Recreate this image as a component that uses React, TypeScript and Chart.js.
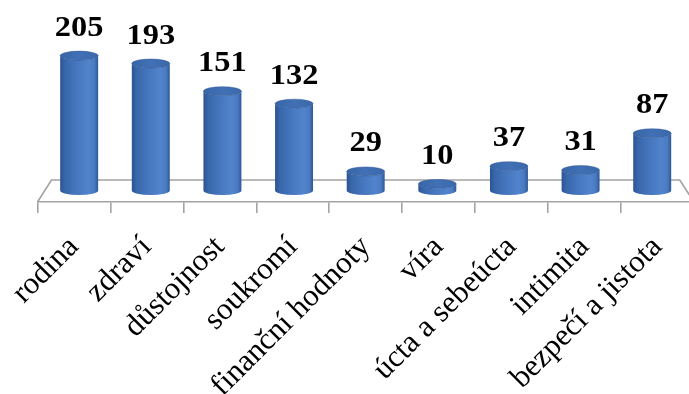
import { useEffect, useRef } from "react";
import { Chart, registerables } from "chart.js";

Chart.register(...registerables);

// Categories and counts
const categories = [
  "rodina",
  "zdraví",
  "důstojnost",
  "soukromí",
  "finanční hodnoty",
  "víra",
  "úcta a sebeúcta",
  "intimita",
  "bezpečí a jistota",
];
const counts = [205, 193, 151, 132, 29, 10, 37, 31, 87];

// Pseudo-3D floor geometry
const FLOOR_RISE = 22; // back edge sits this far above the front edge
const BACK_SCALE = 0.957; // perspective shrink of the back edge
const MID_SCALE = 0.982; // perspective shrink at the cylinders' depth
const MID_RISE = 11.5; // cylinders stand at mid depth
const ELLIPSE_RY = 4.5;

const vanishX = (chart: any) => (chart.chartArea.left + chart.chartArea.right) / 2 - 2;

const cylinderPlugin = {
  id: "cylinders",
  beforeDatasetsDraw(chart: any) {
    const { ctx, chartArea } = chart;
    const { left, right, bottom } = chartArea;
    const vx = vanishX(chart);
    const back = (px: number) => vx + (px - vx) * BACK_SCALE;
    const by = bottom - FLOOR_RISE;
    ctx.save();
    ctx.strokeStyle = "#a3a3a3";
    ctx.lineWidth = 1.6;
    ctx.beginPath();
    ctx.moveTo(left, bottom);
    ctx.lineTo(back(left), by);
    ctx.lineTo(back(right), by);
    ctx.lineTo(right, bottom);
    ctx.stroke();
    ctx.restore();
  },
  afterDatasetsDraw(chart: any) {
    const { ctx } = chart;
    const vx = vanishX(chart);
    const meta = chart.getDatasetMeta(0);
    meta.data.forEach((el: any, i: number) => {
      const { x, y, base, width } = el.getProps(["x", "y", "base", "width"], true);
      const cx = vx + (x - vx) * MID_SCALE;
      const rx = (width * MID_SCALE) / 2;
      const ry = ELLIPSE_RY;
      const b = base - MID_RISE;
      const t = y - MID_RISE;

      ctx.save();
      // body
      const g = ctx.createLinearGradient(cx - rx, 0, cx + rx, 0);
      g.addColorStop(0, "#2a5391");
      g.addColorStop(0.12, "#3866aa");
      g.addColorStop(0.45, "#4677bf");
      g.addColorStop(0.75, "#5184cc");
      g.addColorStop(0.9, "#4a7bc2");
      g.addColorStop(1, "#2d5796");
      ctx.fillStyle = g;
      ctx.beginPath();
      ctx.moveTo(cx - rx, t);
      ctx.lineTo(cx - rx, b);
      ctx.ellipse(cx, b, rx, ry, 0, Math.PI, 0, true);
      ctx.lineTo(cx + rx, t);
      ctx.ellipse(cx, t, rx, ry, 0, 0, Math.PI, false);
      ctx.closePath();
      ctx.fill();

      // top cap
      const tg = ctx.createLinearGradient(cx - rx, 0, cx + rx, 0);
      tg.addColorStop(0, "#3765a8");
      tg.addColorStop(0.5, "#4170b4");
      tg.addColorStop(1, "#3a68ab");
      ctx.fillStyle = tg;
      ctx.beginPath();
      ctx.ellipse(cx, t, rx, ry, 0, 0, Math.PI * 2);
      ctx.fill();
      ctx.strokeStyle = "rgba(40,78,140,0.55)";
      ctx.lineWidth = 0.8;
      ctx.stroke();

      // value label
      ctx.translate(cx, t - 20);
      ctx.scale(1.08, 1);
      ctx.fillStyle = "#000";
      ctx.font = 'bold 30px "Liberation Serif", "Times New Roman", serif';
      ctx.textAlign = "center";
      ctx.textBaseline = "alphabetic";
      ctx.fillText(String(counts[i]), 0, 0);
      ctx.restore();
    });
  },
};

export default function App() {
  const canvasRef = useRef<HTMLCanvasElement | null>(null);

  useEffect(() => {
    if (!canvasRef.current) return;
    const chart = new Chart(canvasRef.current, {
      type: "bar",
      data: {
        labels: categories,
        datasets: [
          {
            data: counts,
            backgroundColor: "rgba(0,0,0,0)",
            borderWidth: 0,
            categoryPercentage: 1,
            barPercentage: 0.53,
          },
        ],
      },
      options: {
        animation: false,
        responsive: true,
        maintainAspectRatio: false,
        layout: { padding: { left: 36, right: 5, top: 0, bottom: 0 } },
        plugins: {
          legend: { display: false },
          tooltip: { enabled: false },
        },
        scales: {
          x: {
            offset: true,
            afterFit: (scale: any) => {
              scale.height = 192;
            },
            border: { display: true, color: "#a3a3a3", width: 1.6 },
            grid: {
              offset: true,
              drawOnChartArea: false,
              drawTicks: true,
              tickLength: 11,
              color: "#a3a3a3",
              lineWidth: 1.6,
            },
            ticks: {
              autoSkip: false,
              minRotation: 45,
              maxRotation: 45,
              padding: 16,
              color: "#000",
              font: { family: '"Liberation Serif", "Times New Roman", serif', size: 31 },
            },
          },
          y: {
            display: false,
            min: 0,
            max: 307,
          },
        },
      },
      plugins: [cylinderPlugin],
    });
    return () => chart.destroy();
  }, []);

  return (
    <div
      style={{
        position: "fixed",
        left: 0,
        top: 0,
        width: 689,
        height: 394,
        overflow: "hidden",
        background: "#fff",
      }}
    >
      <div style={{ position: "relative", width: 700, height: 394 }}>
        <canvas ref={canvasRef} />
      </div>
    </div>
  );
}
